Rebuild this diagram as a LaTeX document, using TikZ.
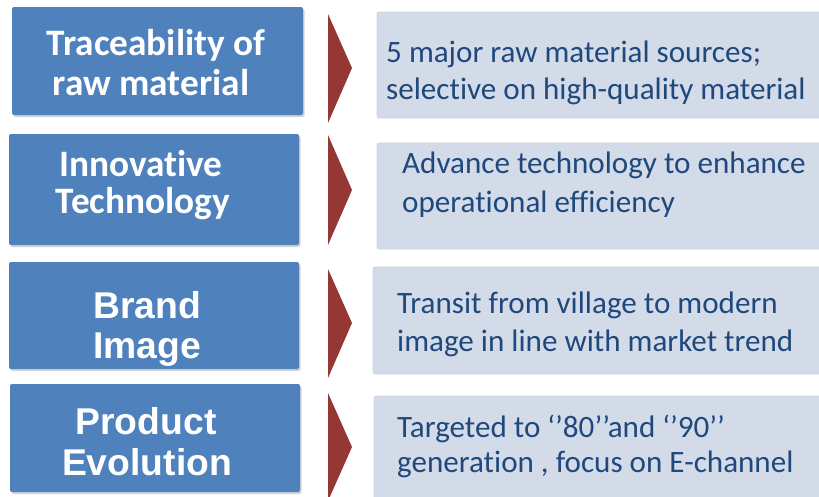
\documentclass[tikz,border=0pt]{standalone}
\usepackage{fontspec}
\setmainfont{Carlito}[Ligatures=NoCommon]
\newfontfamily\arialf{Liberation Sans}
\usetikzlibrary{shadows}
\definecolor{boxblue}{HTML}{4F81BD}
\definecolor{arrred}{HTML}{953735}
\definecolor{pale}{HTML}{D3DBE9}
\definecolor{txtblue}{HTML}{1F497D}
\tikzset{
  leftbox/.style={draw=none, fill=boxblue, rounded corners=2pt, minimum width=290pt, inner sep=0pt,
    drop shadow={shadow xshift=1.5pt, shadow yshift=-2pt, opacity=0.35}},
  rightbox/.style={draw=pale!90!gray, fill=pale, line width=0.6pt, rounded corners=2pt, inner sep=0pt},
  chevron/.style={fill=arrred, draw=none},
  lefttxt/.style={text=white, font=\fontsize{37.3}{40}\selectfont\bfseries, anchor=base, inner sep=0pt},
  leftarial/.style={text=white, font=\fontsize{37.3}{40}\arialf\bfseries, anchor=base, inner sep=0pt},
  righttxt/.style={text=txtblue, font=\fontsize{31.1}{37}\selectfont, anchor=base west, inner sep=0pt}
}
\begin{document}
\begin{tikzpicture}[x=1pt,y=-1pt]
\useasboundingbox (0,0) rectangle (819,496);
% left boxes
\node[leftbox, minimum width=291pt, minimum height=108pt] (b1) at (157.5,61) {};
\node[leftbox, minimum height=111pt] (b2) at (154,189.5) {};
\node[leftbox, minimum height=107pt] (b3) at (154,315.5) {};
\node[leftbox, minimum height=108pt] (b4) at (155,438) {};
% right boxes
\node[rightbox, minimum width=453pt, minimum height=106pt] (r1) at (603.5,65) {};
\node[rightbox, minimum width=453pt, minimum height=106pt] (r2) at (603.5,196) {};
\node[rightbox, minimum width=457pt, minimum height=107pt] (r3) at (601.5,320.5) {};
\node[rightbox, minimum width=456pt, minimum height=107pt] (r4) at (602,449.5) {};
% chevrons
\fill[chevron] (328,14) -- (352,68) -- (328,123) -- cycle;
\fill[chevron] (328,135) -- (352,190) -- (328,245) -- cycle;
\fill[chevron] (328,269) -- (352,323) -- (328,378) -- cycle;
\fill[chevron] (328,393) -- (352,447) -- (328,501) -- cycle;
% left texts
\node[lefttxt] (l1a) at (156,55) {Traceability of};
\node[lefttxt] (l1b) at (151,95) {raw material};
\node[lefttxt] (l2a) at (141,176) {Innovative};
\node[lefttxt] (l2b) at (143,213) {Technology};
\node[leftarial] (l3a) at (147,318) {Brand};
\node[leftarial] (l3b) at (147,358) {Image};
\node[leftarial] (l4a) at (146,434) {Product};
\node[leftarial] (l4b) at (147,475) {Evolution};
% right texts
\node[righttxt] (t1a) at (386,62) {5 major raw material sources;};
\node[righttxt] (t1b) at (386,99) {selective on high-quality material};
\node[righttxt] (t2a) at (402,173) {Advance technology to enhance};
\node[righttxt] (t2b) at (402,212) {operational efficiency};
\node[righttxt] (t3a) at (397,313) {Transit from village to modern};
\node[righttxt] (t3b) at (397,351) {image in line with market trend};
\node[righttxt] (t4a) at (397,437) {Targeted to ‘’80’’and ‘’90’’};
\node[righttxt] (t4b) at (397,472) {generation , focus on E-channel};
\end{tikzpicture}
\end{document}
